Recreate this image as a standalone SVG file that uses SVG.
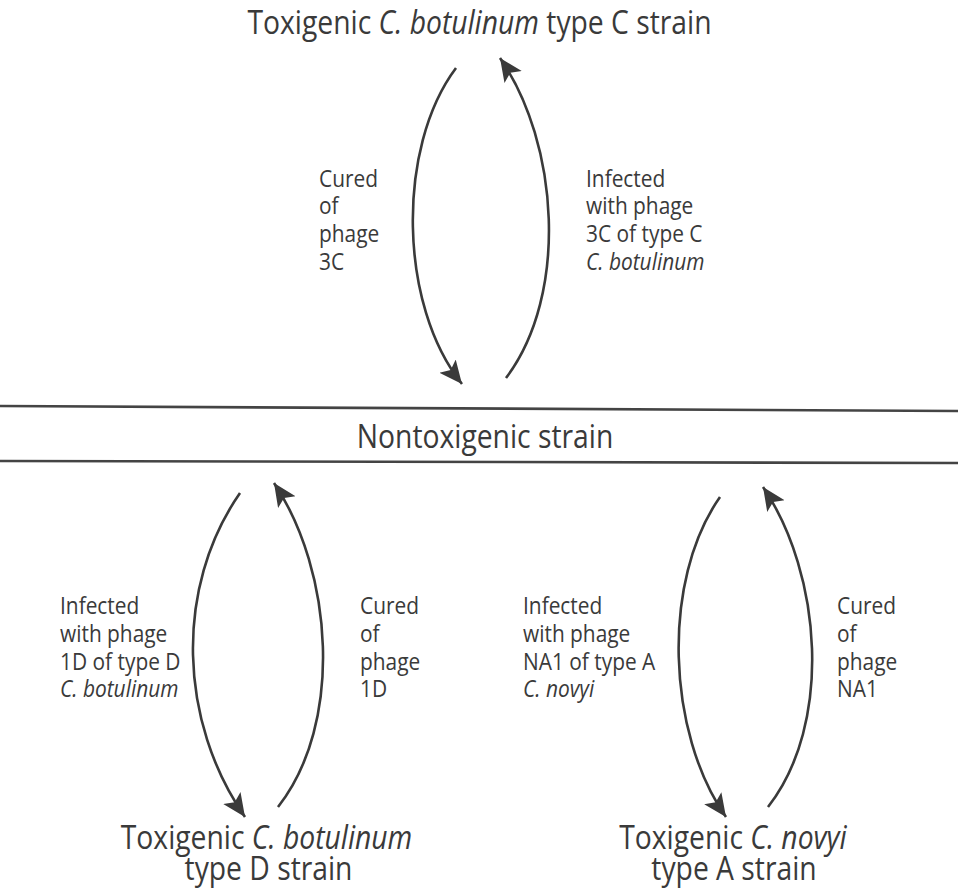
<svg xmlns="http://www.w3.org/2000/svg" width="958" height="892" viewBox="0 0 958 892">
<defs>
<marker id="ah" markerUnits="userSpaceOnUse" markerWidth="28" markerHeight="24" refX="23" refY="10.5" orient="auto">
<path d="M0,0 L23,10.5 L0,21 L5,10.5 z" fill="#3a3a3a"/>
</marker>
<style>
text{font-family:"Open Sans","Noto Sans","Liberation Sans",sans-serif;fill:#3a3a3a}
.t{font-size:32.5px}
.l{font-size:24px}
.i{font-style:italic}
.c{fill:none;stroke:#3a3a3a;stroke-width:2.6;marker-end:url(#ah)}
.h{stroke:#444;stroke-width:2.6}
</style>
</defs>
<rect width="958" height="892" fill="#ffffff"/>
<g id="divider">
<line class="h" x1="0" y1="406" x2="958" y2="411"/>
<line class="h" x1="0" y1="461" x2="958" y2="463"/>
</g>
<g id="node-typeC">
<text class="t" text-anchor="middle" transform="translate(479.5,34) scale(0.87,1)">Toxigenic <tspan class="i">C. botulinum</tspan> type C strain</text>
</g>
<g id="node-nontox">
<text class="t" text-anchor="middle" transform="translate(485,448) scale(0.87,1)">Nontoxigenic strain</text>
</g>
<g id="node-typeD">
<text class="t" text-anchor="middle" transform="translate(266.5,849) scale(0.87,1)">Toxigenic <tspan class="i">C. botulinum</tspan></text>
<text class="t" text-anchor="middle" transform="translate(268.5,880) scale(0.87,1)">type D strain</text>
</g>
<g id="node-novyiA">
<text class="t" text-anchor="middle" transform="translate(733,849) scale(0.87,1)">Toxigenic <tspan class="i">C. novyi</tspan></text>
<text class="t" text-anchor="middle" transform="translate(734,880) scale(0.87,1)">type A strain</text>
</g>
<g id="connectors">
<path class="c" d="M456,68 C396,148 399,306 462,384"/>
<path class="c" d="M506,378 C569,295 559,143 500,58"/>
<path class="c" d="M240,493 C174,588 179,722 245,817"/>
<path class="c" d="M278,807 C344,723 333,571 274,483"/>
<path class="c" d="M720,497 C661,581 667,733 726,817"/>
<path class="c" d="M768,807 C833,724 822,574 763,487"/>
</g>
<g id="labels">
<g transform="translate(319,0) scale(0.87,1)">
<text class="l" x="0" y="187">Cured</text>
<text class="l" x="0" y="214">of</text>
<text class="l" x="0" y="242">phage</text>
<text class="l" x="0" y="270">3C</text>
</g>
<g transform="translate(586,0) scale(0.87,1)">
<text class="l" x="0" y="187">Infected</text>
<text class="l" x="0" y="214">with phage</text>
<text class="l" x="0" y="242">3C of type C</text>
<text class="l i" x="0" y="270">C. botulinum</text>
</g>
<g transform="translate(60,0) scale(0.87,1)">
<text class="l" x="0" y="614">Infected</text>
<text class="l" x="0" y="642">with phage</text>
<text class="l" x="0" y="670">1D of type D</text>
<text class="l i" x="0" y="697">C. botulinum</text>
</g>
<g transform="translate(360,0) scale(0.87,1)">
<text class="l" x="0" y="614">Cured</text>
<text class="l" x="0" y="642">of</text>
<text class="l" x="0" y="670">phage</text>
<text class="l" x="0" y="697">1D</text>
</g>
<g transform="translate(523,0) scale(0.87,1)">
<text class="l" x="0" y="614">Infected</text>
<text class="l" x="0" y="642">with phage</text>
<text class="l" x="0" y="670">NA1 of type A</text>
<text class="l i" x="0" y="697">C. novyi</text>
</g>
<g transform="translate(837,0) scale(0.87,1)">
<text class="l" x="0" y="614">Cured</text>
<text class="l" x="0" y="642">of</text>
<text class="l" x="0" y="670">phage</text>
<text class="l" x="0" y="697">NA1</text>
</g>
</g>
</svg>
